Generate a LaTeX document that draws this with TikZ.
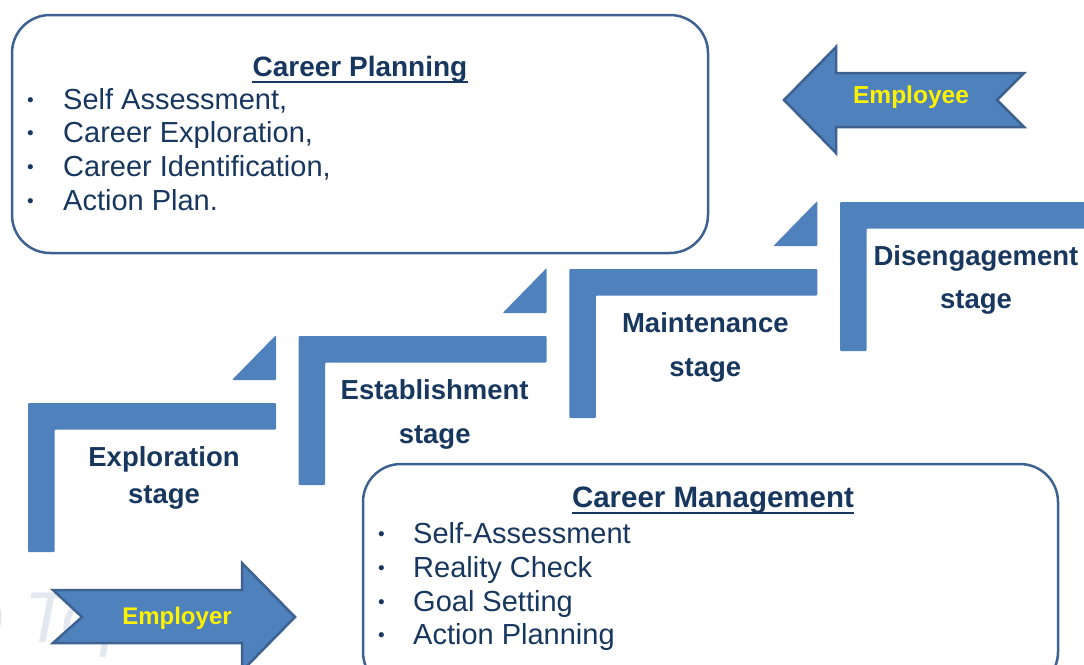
\documentclass[tikz,border=0pt]{standalone}
\usepackage{fontspec}
\setmainfont{Liberation Sans}
\definecolor{stepblue}{HTML}{4F81BD}
\definecolor{edgeblue}{HTML}{3D6291}
\definecolor{navy}{HTML}{17375E}
\definecolor{marks}{HTML}{E3E8EF}

\begin{document}
\begin{tikzpicture}
  [x=1pt,y=-1pt,
   box/.style={draw=edgeblue,line width=2.5pt,fill=white,rounded corners=38pt},
   bar/.style={fill=stepblue,rounded corners=1pt},
   arrowshape/.style={fill=stepblue,draw=edgeblue,line width=2.5pt,line join=miter},
   title/.style={font=\fontsize{28}{34}\selectfont\bfseries,text=navy,inner sep=0pt,anchor=base},
   item/.style={font=\fontsize{29}{34}\selectfont,text=navy,inner sep=0pt,anchor=base west},
   dot/.style={font=\fontsize{19}{22}\selectfont,text=navy,inner sep=0pt,anchor=base west},
   stagetext/.style={font=\fontsize{27.5}{33}\selectfont\bfseries,text=navy,inner sep=0pt,anchor=base},
   who/.style={font=\fontsize{24.5}{28}\selectfont\bfseries,text=yellow,inner sep=0pt}]
  \useasboundingbox (0,0) rectangle (1084,664);
  \clip (0,0) rectangle (1084,664);

  % faint mark behind the employer arrow
  \node[font=\fontsize{72}{80}\selectfont\itshape,text=marks,anchor=base west,inner sep=0pt] (mark) at (-36,642) {p Top};

  % career planning
  \draw[box] (12,15) rectangle (708,253);
  \node[title] (planning) at (360,76) {Career Planning};
  \draw[navy,line width=2.4pt] ([yshift=-6pt]planning.base west) -- ([yshift=-6pt]planning.base east);
  \foreach \y/\t [count=\n] in {109/{Self Assessment,},142/{Career Exploration,},176/{Career Identification,},210/{Action Plan.}} {
    \node[dot] (pb\n) at (27,\y-3) {•};
    \node[item] (p\n) at (63,\y) {\t};
  }

  % career management
  \draw[box] (363,464) rectangle (1058,690);
  \node[title,font=\fontsize{29.5}{34}\selectfont\bfseries] (management) at (713,507) {Career Management};
  \draw[navy,line width=2.4pt] ([yshift=-6pt]management.base west) -- ([yshift=-6pt]management.base east);
  \foreach \y/\t [count=\n] in {543/Self-Assessment,577/Reality Check,611/Goal Setting,644/Action Planning} {
    \node[dot] (mb\n) at (378,\y-3) {•};
    \node[item] (m\n) at (413,\y) {\t};
  }

  % stages
  \foreach \i/\name/\dy in {0/Exploration/100,1/Establishment/107,2/Maintenance/107,3/Disengagement/106} {
    \pgfmathsetmacro\cx{28+270.67*\i}
    \pgfmathsetmacro\cy{403-67*\i}
    \pgfmathsetmacro\len{ifthenelse(\i==3,270,248)}
    \fill[bar] (\cx,\cy) -- ++(\len,0) -- ++(0,26.5) -- (\cx+26.5,\cy+26.5) -- (\cx+26.5,\cy+149) -- (\cx,\cy+149) -- cycle;
    \ifnum\i<3
      \fill[bar] (\cx+204,\cy-23) -- (\cx+248,\cy-23) -- (\cx+248,\cy-68) -- cycle;
    \fi
    \node[stagetext] (st\i) at (\cx+136,\cy+63) {\name};
    \node[stagetext] (sb\i) at (\cx+136,\cy+\dy) {stage};
  }

  % employee / employer
  \draw[arrowshape] (784,100) -- (836,47) -- (836,73) -- (1024,73) -- (997,100) -- (1024,127) -- (836,127) -- (836,153) -- cycle;
  \node[who] (employee) at (911,97) {Employee};
  \draw[arrowshape] (53,590) -- (242,590) -- (242,563) -- (295,617) -- (242,671) -- (242,643) -- (53,643) -- (82,617) -- cycle;
  \node[who,font=\fontsize{24}{28}\selectfont\bfseries] (employer) at (177,618) {Employer};
\end{tikzpicture}
\end{document}
